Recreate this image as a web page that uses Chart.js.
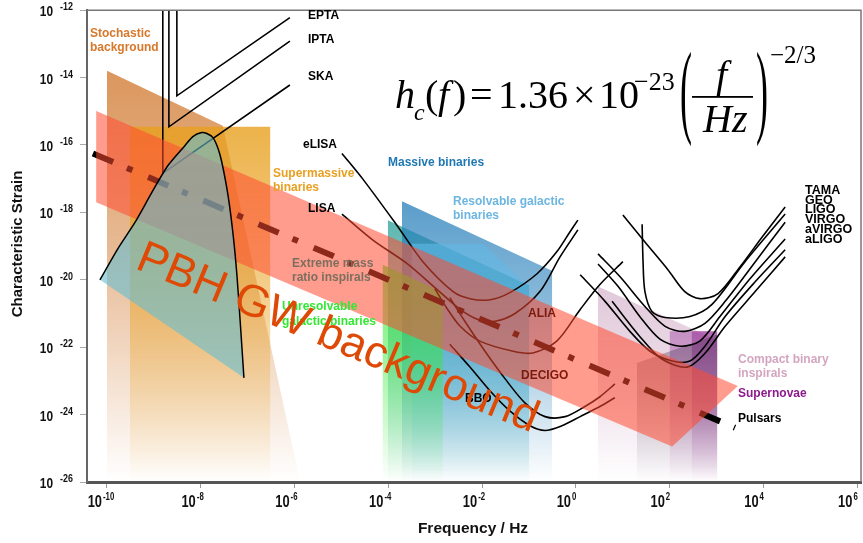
<!DOCTYPE html>
<html>
<head>
<meta charset="utf-8">
<title>Gravitational wave sensitivity with PBH background</title>
<script src="https://cdn.jsdelivr.net/npm/chart.js@4.4.1/dist/chart.umd.min.js"></script>
<style>
  html, body { margin: 0; padding: 0; background: #fff; }
  canvas { display: block; }
</style>
</head>
<body>
<canvas id="gwChart" width="863" height="543"></canvas>
<script>
// every pair is [log10(f / Hz), log10(h_c)]
const X_MIN = -10.426, X_MAX = 6.077;
const Y_MIN = -26, Y_MAX = -12;
const xTickExps = [-10, -8, -6, -4, -2, 0, 2, 4, 6];
const yTickExps = [-26, -24, -22, -20, -18, -16, -14, -12];

// source regions
const stochasticBg = [[-10.00, -13.80], [-7.53, -15.43], [-5.88, -26], [-10.00, -26]];
const supermassive = [[-9.51, -15.46], [-6.52, -15.46], [-6.52, -26], [-9.51, -26]];
const emri = [[-4.01, -18.23], [-1.00, -20.17], [-1.00, -26], [-4.01, -26]];
const massiveBin = [[-3.71, -17.67], [-0.51, -19.73], [-0.51, -26], [-3.71, -26]];
const resolvableGal = [[-3.50, -18.93], [-2.00, -18.93], [-1.00, -20.20], [-1.00, -26], [-3.50, -26]];
const unresolvableGal = [[-4.12, -19.55], [-2.84, -20.38], [-2.84, -26], [-4.12, -26]];
const compactBin = [[0.47, -20.20], [3.01, -21.79], [3.01, -26], [0.47, -26]];
const supernovaeA = [[2.00, -21.53], [3.01, -21.53], [3.01, -26], [2.00, -26]];
const supernovaeB = [[2.47, -21.53], [3.01, -21.53], [3.01, -26], [2.47, -26]];
const pulsars = [[1.30, -22.47], [3.01, -21.62], [3.01, -26], [1.30, -26]];

// PBH background
const pbhBand = [[-10.23, -14.99], [3.45, -23.15], [2.05, -24.95], [-10.23, -17.70]];
const pbhLine = [[-10.30, -16.25], [3.39, -24.39]];
const pbhCurve = [[-10.15, -20.00], [-9.77, -19.08], [-9.40, -18.29], [-9.04, -17.40], [-8.70, -16.61],
  [-8.34, -16.02], [-8.17, -15.75], [-7.98, -15.63], [-7.87, -15.66], [-7.74, -15.78], [-7.63, -16.11],
  [-7.55, -16.52], [-7.42, -17.49], [-7.31, -18.67], [-7.23, -19.85], [-7.16, -21.23], [-7.08, -22.91]];

// pulsar timing arrays
const epta = [[-8.51, -12], [-8.51, -14.54], [-6.10, -12.22]];
const ipta = [[-8.68, -12], [-8.68, -15.46], [-6.10, -12.92]];
const ska = [[-8.81, -12], [-8.81, -16.84], [-6.10, -14.22]];

// space detectors
const elisa = [[-4.99, -16.25], [-4.54, -17.02], [-3.82, -18.38], [-3.26, -19.47], [-2.62, -20.35], [-2.26, -20.56],
  [-1.83, -20.59], [-1.41, -20.38], [-0.83, -19.82], [-0.41, -19.17], [-0.13, -18.58], [0.04, -18.23]];
const lisa = [[-4.99, -18.05], [-4.33, -18.82], [-3.60, -19.52], [-2.96, -20.29], [-2.47, -20.88], [-2.09, -21.18],
  [-1.73, -21.23], [-1.30, -21.00], [-0.77, -20.35], [-0.34, -19.32], [0.04, -18.52]];
const alia = [[-3.01, -20.26], [-2.75, -20.85], [-2.47, -21.38], [-2.05, -21.82], [-1.34, -22.12], [-0.92, -22.17],
  [-0.41, -21.82], [0.09, -20.88], [0.51, -20.14], [1.00, -19.46]];
const decigo = [[-2.69, -20.53], [-2.37, -21.23], [-1.94, -22.12], [-1.51, -22.94], [-1.09, -23.65], [-0.66, -24.06],
  [-0.23, -24.06], [0.19, -23.76], [0.51, -23.47], [0.83, -23.09]];
const bbo = [[-2.69, -21.91], [-2.26, -22.59], [-1.83, -23.30], [-1.41, -23.89], [-0.98, -24.33], [-0.66, -24.47],
  [-0.30, -24.33], [0.09, -24.06], [0.51, -23.76], [0.83, -23.50]];

// ground detectors
const tama = [[1.00, -18.08], [1.47, -18.88], [1.96, -19.70], [2.32, -20.35], [2.64, -20.56], [3.03, -20.41],
  [3.50, -19.61], [3.97, -18.73], [4.46, -17.84]];
const geo = [[1.41, -18.35], [1.43, -19.47], [1.47, -20.35], [1.62, -20.94], [1.90, -21.12], [2.43, -21.09],
  [2.90, -20.73], [3.60, -19.47], [4.46, -18.05]];
const ligo = [[0.47, -19.23], [0.94, -19.91], [1.47, -20.79], [1.90, -21.38], [2.32, -21.53], [2.75, -21.29],
  [3.18, -20.64], [3.82, -19.47], [4.46, -18.29]];
const virgo = [[0.47, -19.53], [0.90, -20.20], [1.36, -21.09], [1.79, -21.76], [2.22, -21.97], [2.64, -21.82],
  [3.07, -21.09], [3.71, -19.97], [4.46, -18.79]];
const avirgo = [[0.09, -19.85], [0.62, -20.64], [1.15, -21.53], [1.58, -22.12], [2.05, -22.41], [2.43, -22.41],
  [2.75, -21.97], [3.18, -21.09], [3.82, -20.06], [4.46, -19.11]];
const aligo = [[0.77, -20.64], [1.36, -21.68], [1.83, -22.35], [2.37, -22.59], [2.75, -22.18], [3.18, -21.38],
  [3.82, -20.35], [4.46, -19.32]];

const groundNames = ['TAMA', 'GEO', 'LIGO', 'VIRGO', 'aVIRGO', 'aLIGO'];

const FONT = '"Liberation Sans", Arial, sans-serif';
const SERIF = '"Liberation Serif", "Times New Roman", serif';

function pts(arr) {
  return arr.map(([lf, lh]) => ({ x: 10 ** lf, y: 10 ** lh }));
}

// vertical fade towards the bottom of the plot, like the original
function fadeFill(rgb, alpha, topExp) {
  return (c) => {
    const chart = c.chart;
    const area = chart.chartArea;
    if (!area) return `rgba(${rgb},${alpha})`;
    const top = chart.scales.y.getPixelForValue(10 ** topExp);
    const g = chart.ctx.createLinearGradient(0, top, 0, area.bottom);
    g.addColorStop(0, `rgba(${rgb},${alpha})`);
    g.addColorStop(0.45, `rgba(${rgb},${alpha * 0.65})`);
    g.addColorStop(1, `rgba(${rgb},0)`);
    return g;
  };
}

function region(arr, rgb, alpha) {
  const topExp = Math.max(...arr.map(p => p[1]));
  return {
    data: pts(arr), showLine: true, fill: 'shape',
    backgroundColor: fadeFill(rgb, alpha, topExp),
    borderColor: 'transparent', borderWidth: 0, tension: 0
  };
}

function solid(arr, color) {
  return {
    data: pts(arr), showLine: true, fill: 'shape',
    backgroundColor: color, borderColor: 'transparent', borderWidth: 0, tension: 0
  };
}

function curve(arr, color, width, tension) {
  return {
    data: pts(arr), showLine: true, fill: false,
    borderColor: color, borderWidth: width, tension: tension
  };
}

// back to front
const layers = [
  region(stochasticBg, '205,110,30', 0.72),
  region(supermassive, '232,160,30', 0.8),
  region(emri, '40,160,150', 0.75),
  region(massiveBin, '35,125,185', 0.75),
  region(resolvableGal, '95,185,230', 0.6),
  region(unresolvableGal, '50,235,50', 0.7),
  region(compactBin, '180,120,165', 0.4),
  region(supernovaeA, '165,80,165', 0.5),
  region(supernovaeB, '140,30,140', 0.45),
  region(pulsars, '60,40,70', 0.35),
  curve(epta, '#000', 1.6, 0),
  curve(ipta, '#000', 1.6, 0),
  curve(ska, '#000', 1.6, 0),
  curve(elisa, '#000', 1.6, 0.3),
  curve(lisa, '#000', 1.6, 0.3),
  curve(alia, '#000', 1.6, 0.3),
  curve(decigo, '#000', 1.6, 0.3),
  curve(bbo, '#000', 1.6, 0.3),
  curve(tama, '#000', 1.6, 0.3),
  curve(geo, '#000', 1.6, 0.3),
  curve(ligo, '#000', 1.6, 0.3),
  curve(virgo, '#000', 1.6, 0.3),
  curve(avirgo, '#000', 1.6, 0.3),
  curve(aligo, '#000', 1.6, 0.3),
  Object.assign(curve(pbhLine, '#000', 6, 0), { borderDash: [22, 15, 6, 17], borderCapStyle: 'butt' }),
  solid(pbhBand, 'rgba(255,75,50,0.55)'),
  Object.assign(curve(pbhCurve, '#000', 1.5, 0.25), { fill: 'shape', backgroundColor: 'rgba(100,190,210,0.6)' })
];

const datasets = layers.map((d, i) => Object.assign(d, { order: -i }));

const labels = [
  ['EPTA', 308, 19, '#000'], ['IPTA', 308, 43, '#000'], ['SKA', 308, 80, '#000'],
  ['Stochastic', 90, 37, '#d8782a'], ['background', 90, 51, '#d8782a'],
  ['Supermassive', 273, 177, '#e8a020'], ['binaries', 273, 191, '#e8a020'],
  ['eLISA', 303, 148, '#000'], ['LISA', 308, 212, '#000'],
  ['Massive binaries', 388, 166, '#1f78b4'],
  ['Resolvable galactic', 453, 205, '#6cb6e0'], ['binaries', 453, 219, '#6cb6e0'],
  ['Extreme mass', 292, 267, '#7c6f5e'], ['ratio inspirals', 292, 281, '#7c6f5e'],
  ['Unresolvable', 282, 310, '#33e833'], ['galactic binaries', 282, 325, '#33e833'],
  ['ALIA', 528, 317, '#7a1a0c'], ['DECIGO', 521, 379, '#7a1a0c'], ['BBO', 465, 402, '#000'],
  ['Compact binary', 738, 363, '#d4a5c0'], ['inspirals', 738, 377, '#d4a5c0'],
  ['Supernovae', 738, 397, '#8c1a8c'], ['Pulsars', 738, 422, '#000']
];

function drawPow(ctx, exp, xRight, baseY, bigPx, smallPx, rise, squeeze, gap) {
  ctx.save();
  ctx.translate(xRight, baseY);
  ctx.scale(squeeze, 1);
  ctx.fillStyle = '#111';
  ctx.textBaseline = 'alphabetic';
  ctx.font = `bold ${bigPx}px ${FONT}`;
  ctx.textAlign = 'right';
  ctx.fillText('10', 0, 0);
  ctx.font = `bold ${smallPx}px ${FONT}`;
  ctx.textAlign = 'left';
  ctx.fillText(String(exp), gap / squeeze, -rise);
  ctx.restore();
}

const decorations = {
  id: 'decorations',
  afterDraw(chart) {
    const { ctx, chartArea: a, scales } = chart;
    ctx.save();

    // frame top and right
    ctx.strokeStyle = '#777';
    ctx.lineWidth = 1.5;
    ctx.beginPath();
    ctx.moveTo(a.left, a.top);
    ctx.lineTo(a.right, a.top);
    ctx.lineTo(a.right, a.bottom);
    ctx.stroke();

    // tick labels
    yTickExps.forEach(e => {
      const y = scales.y.getPixelForValue(10 ** e);
      drawPow(ctx, e, 53, y + 6, 14, 10.5, 6, 0.85, 7);
    });
    xTickExps.forEach(e => {
      const x = scales.x.getPixelForValue(10 ** e);
      drawPow(ctx, e, x - 5, 507, 16.5, 10, 7, 0.78, 1);
    });

    // axis titles
    ctx.fillStyle = '#111';
    ctx.font = `bold 15.5px ${FONT}`;
    ctx.textAlign = 'center';
    ctx.fillText('Frequency / Hz', 473, 533);
    ctx.save();
    ctx.translate(22, 244);
    ctx.rotate(-Math.PI / 2);
    ctx.font = `bold 15px ${FONT}`;
    ctx.fillText('Characteristic Strain', 0, 0);
    ctx.restore();

    // region and detector labels
    ctx.textAlign = 'left';
    ctx.font = `bold 12px ${FONT}`;
    labels.forEach(([t, x, y, c]) => {
      ctx.fillStyle = c;
      ctx.fillText(t, x, y);
    });
    ctx.fillStyle = '#000';
    ctx.font = `bold 12.5px ${FONT}`;
    groundNames.forEach((t, i) => ctx.fillText(t, 805, 194 + i * 9.7));

    // formula
    ctx.fillStyle = '#000';
    ctx.font = `italic 40px ${SERIF}`;
    ctx.fillText('h', 395, 108);
    ctx.font = `italic 24px ${SERIF}`;
    ctx.fillText('c', 414, 120);
    ctx.font = `40px ${SERIF}`;
    ctx.fillText('(', 425, 108);
    ctx.font = `italic 40px ${SERIF}`;
    ctx.fillText('f', 438, 108);
    ctx.font = `40px ${SERIF}`;
    ctx.fillText(')', 453, 108);
    ctx.fillText('=', 470, 108);
    ctx.fillText('1.36', 498, 108);
    ctx.fillText('\u00d7', 573, 108);
    ctx.fillText('10', 599, 108);
    ctx.font = `26px ${SERIF}`;
    ctx.fillText('\u221223', 634, 90);
    [['(', 680], [')', 756]].forEach(([p, x]) => {
      ctx.save();
      ctx.translate(x, 124);
      ctx.scale(0.9, 2.6);
      ctx.font = `40px ${SERIF}`;
      ctx.fillText(p, 0, 0);
      ctx.restore();
    });
    ctx.font = `italic 40px ${SERIF}`;
    ctx.fillText('f', 716, 88);
    ctx.fillText('Hz', 703, 132);
    ctx.fillRect(692, 96, 61, 1.8);
    ctx.font = `25px ${SERIF}`;
    ctx.fillText('\u22122/3', 770, 63);

    // big overlay text
    ctx.save();
    ctx.translate(134, 268);
    ctx.rotate(22.5 * Math.PI / 180);
    ctx.font = `45px ${FONT}`;
    ctx.fillStyle = 'rgb(222,74,6)';
    ctx.fillText('PBH GW background', 0, 0);
    ctx.restore();

    ctx.restore();
  }
};

new Chart(document.getElementById('gwChart'), {
  type: 'scatter',
  data: { datasets },
  options: {
    responsive: false,
    devicePixelRatio: 1,
    animation: false,
    layout: { padding: { top: 7, right: 2, left: 0, bottom: 0 } },
    elements: { point: { radius: 0, hoverRadius: 0 } },
    plugins: { legend: { display: false }, tooltip: { enabled: false } },
    scales: {
      x: {
        type: 'logarithmic',
        min: 10 ** X_MIN,
        max: 10 ** X_MAX,
        afterFit(s) { s.height = 61; },
        afterBuildTicks(s) { s.ticks = xTickExps.map(e => ({ value: 10 ** e })); },
        ticks: { callback: () => '' },
        grid: { drawOnChartArea: false, drawTicks: true, tickLength: 6, color: '#999' },
        border: { display: true, color: '#555', width: 3 }
      },
      y: {
        type: 'logarithmic',
        min: 10 ** Y_MIN,
        max: 10 ** Y_MAX,
        afterFit(s) { s.width = 87; },
        afterBuildTicks(s) { s.ticks = yTickExps.map(e => ({ value: 10 ** e })); },
        ticks: { callback: () => '' },
        grid: { drawOnChartArea: false, drawTicks: true, tickLength: 7, color: '#aaa' },
        border: { display: true, color: '#666', width: 2 }
      }
    }
  },
  plugins: [decorations]
});
</script>
</body>
</html>
